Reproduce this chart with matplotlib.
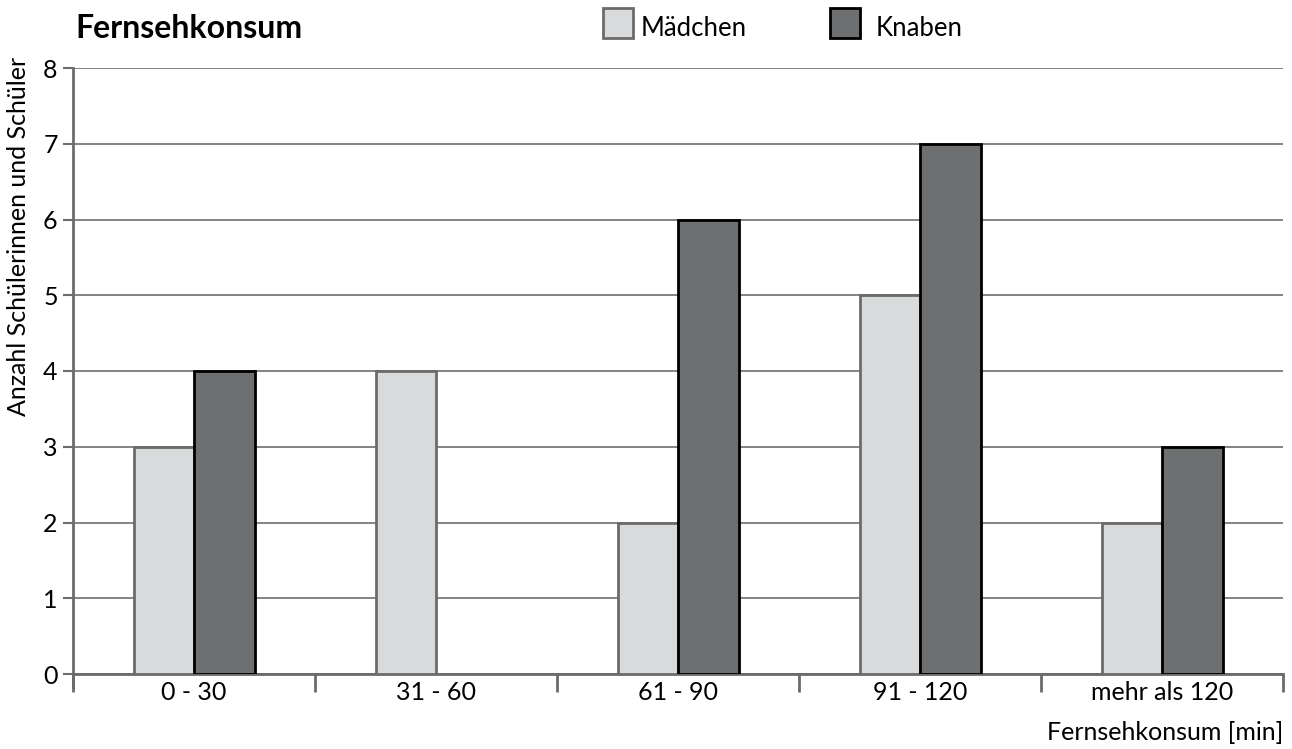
import numpy as np
import matplotlib
matplotlib.use("Agg")
import matplotlib.pyplot as plt
from matplotlib.patches import Rectangle

plt.rcParams['font.family'] = ['Lato', 'DejaVu Sans']

# data
categories = ['0 - 30', '31 - 60', '61 - 90', '91 - 120', 'mehr als 120']
maedchen = [3, 4, 2, 5, 2]
knaben = [4, 0, 6, 7, 3]

fig = plt.figure(figsize=(12.92, 7.49), dpi=100)
# axes box in pixels: left 73, right 1283, top 68, bottom 674
W, H = 1292, 749
ax = fig.add_axes([73 / W, 1 - 674 / H, (1283 - 73) / W, (674 - 68) / H])

x = np.arange(len(categories))
w = 0.25
# no outline for empty bars
m_edges = ['#6b6b6b' if v > 0 else 'none' for v in maedchen]
k_edges = ['black' if v > 0 else 'none' for v in knaben]
ax.bar(x - w / 2, maedchen, width=w, color='#d9dadc', edgecolor=m_edges, linewidth=2, zorder=3)
ax.bar(x + w / 2, knaben, width=w, color='#6e6f71', edgecolor=k_edges, linewidth=2, zorder=3)

ax.set_xlim(-0.5, len(categories) - 0.5)
ax.set_ylim(0, 8)
ax.set_yticks(range(0, 9))
ax.yaxis.grid(True, color='#7a7a7a', linewidth=1.3, zorder=0)
ax.set_axisbelow(True)

# category boundary ticks
ax.set_xticks(np.arange(-0.5, len(categories), 1.0))
ax.set_xticklabels([])
ax.set_xticks(x, minor=True)
ax.set_xticklabels(categories, minor=True)
ax.tick_params(axis='x', which='major', direction='out', length=13, width=2, color='#6b6b6b')
ax.tick_params(axis='x', which='minor', length=0, labelsize=18, pad=5)
ax.tick_params(axis='y', direction='out', length=7, width=1.5, color='#6b6b6b', labelsize=18, pad=4)

for s in ['top', 'right']:
    ax.spines[s].set_visible(False)
ax.spines['left'].set_color('#6b6b6b')
ax.spines['left'].set_linewidth(2)
ax.spines['left'].set_bounds(-0.17, 8)
ax.spines['bottom'].set_color('#6b6b6b')
ax.spines['bottom'].set_linewidth(2)

fig.text(1283 / W, 1 - 733 / H, 'Fernsehkonsum [min]', ha='right', va='center', fontsize=18)
fig.text(19 / W, 1 - 57 / H, 'Anzahl Schülerinnen und Schüler', rotation=90,
         ha='center', va='top', fontsize=18)
fig.text(75 / W, 1 - 29 / H, 'Fernsehkonsum', ha='left', va='center', fontsize=23, fontweight='bold')

# legend
fig.patches.append(Rectangle((603 / W, 1 - 38 / H), 30 / W, 30 / H, transform=fig.transFigure,
                             facecolor='#d9dadc', edgecolor='#6b6b6b', linewidth=2))
fig.text(641 / W, 1 - 29 / H, 'Mädchen', ha='left', va='center', fontsize=18.5)
fig.patches.append(Rectangle((830 / W, 1 - 38 / H), 30 / W, 30 / H, transform=fig.transFigure,
                             facecolor='#6e6f71', edgecolor='black', linewidth=2))
fig.text(876 / W, 1 - 29 / H, 'Knaben', ha='left', va='center', fontsize=18.5)

fig.savefig('out.png', dpi=100)
